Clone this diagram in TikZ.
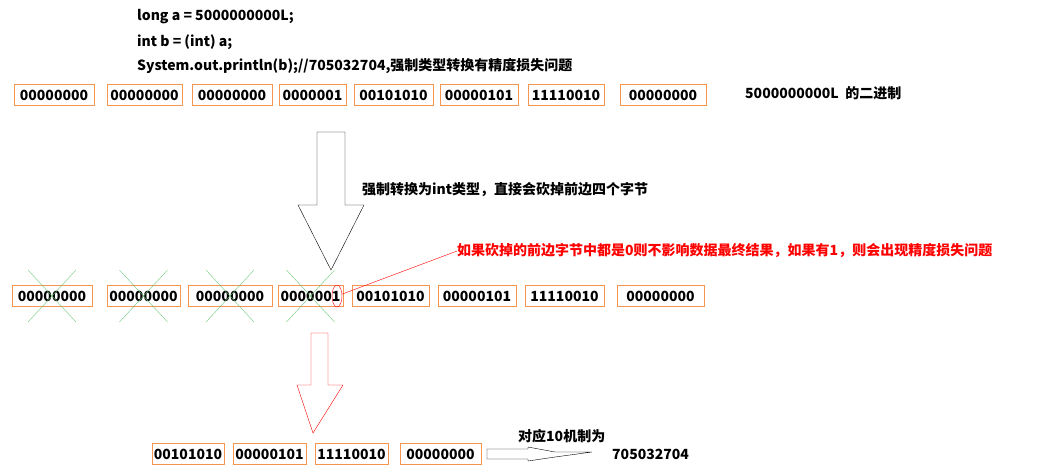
\documentclass[tikz,border=0pt]{standalone}
\usepackage{fontspec}
\setmainfont{Noto Sans CJK SC}
\usetikzlibrary{positioning,shapes.geometric}
\definecolor{boxorange}{RGB}{245,150,80}
\definecolor{crossgreen}{RGB}{110,200,120}
\tikzset{
  bytebox/.style={draw=boxorange, inner sep=0pt, minimum height=21pt, font=\bfseries\fontsize{14}{16}\selectfont},
  plain/.style={anchor=west, inner sep=0pt, font=\bfseries\fontsize{14}{16}\selectfont},
}
\begin{document}
\begin{tikzpicture}[x=1pt,y=-1pt]
  \useasboundingbox (0,0) rectangle (1040,472);
  % code lines
  \node[plain] (c1) at (137,17) {long a = 5000000000L;};
  \node[plain] (c2) at (137,42) {int b = (int) a;};
  \node[plain] (c3) at (137,66) {System.out.println(b);//705032704,强制类型转换有精度损失问题};
  % long value
  \foreach \n/\a/\b/\t in {1/14/94/00000000, 2/107/182/00000000, 3/192/272/00000000, 4/279/346/0000001,
      5/354/433/00101010, 6/440/518/00000101, 7/528/604/11110010, 8/620/706/00000000}
    \node[bytebox, minimum width=\b-\a] (t\n) at ({(\a+\b)/2},95) {\t};
  \node[plain] (tl) at (745,93) {5000000000L \ 的二进制};
  % cast arrow
  \draw[thin] (317,132) -- (345,132) -- (345,205) -- (364,205) -- (331,270) -- (298,205) -- (317,205) -- cycle;
  \node[plain] (castl) at (362,190) {强制转换为int类型，直接会砍掉前边四个字节};
  % after cut
  \foreach \n/\a/\b/\t in {1/12/92/00000000, 2/107/180/00000000, 3/188/272/00000000, 4/278/343/0000001,
      5/352/429/00101010, 6/438/516/00000101, 7/525/604/11110010, 8/617/704/00000000}
    \node[bytebox, minimum width=\b-\a] (m\n) at ({(\a+\b)/2},296) {\t};
  \foreach \n in {1,...,4}
    \draw[crossgreen, thin] ([xshift=-24pt,yshift=-26pt]m\n.center) -- ([xshift=24pt,yshift=26pt]m\n.center)
      ([xshift=-24pt,yshift=26pt]m\n.center) -- ([xshift=24pt,yshift=-26pt]m\n.center);
  \node[draw=red, ellipse, inner sep=0pt, minimum width=10pt, minimum height=22pt] (one) at (337,296) {};
  \node[plain, text=red] (note) at (457,251) {如果砍掉的前边字节中都是0则不影响数据最终结果，如果有1，则会出现精度损失问题};
  \draw[red, thin] (one) -- (note.west);
  % result arrow
  \draw[red, thin] (311,333) -- (328,333) -- (328,385) -- (343,385) -- (313,433) -- (297,385) -- (311,385) -- cycle;
  \foreach \n/\a/\b/\t in {1/152/224/00101010, 2/233/306/00000101, 3/315/388/11110010, 4/400/481/00000000}
    \node[bytebox, minimum width=\b-\a] (b\n) at ({(\a+\b)/2},454) {\t};
  \node[plain] (dec) at (612,454) {705032704};
  \draw[thin] (487,449) -- (528,449) -- (528,447) -- (555,452) -- (592,452) -- (555,457) -- (528,461) -- (528,459) -- (487,459) -- cycle;
  \node[plain] (decl) at (518,436) {对应10机制为};
\end{tikzpicture}
\end{document}
